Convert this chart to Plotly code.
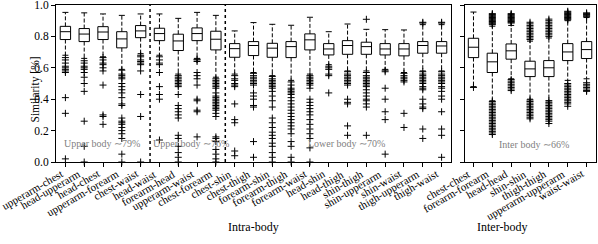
import plotly.graph_objects as go

# ---------------- data ----------------
intra_labels = ["upperarm-chest", "head-upperarm", "head-chest", "upperarm-forearm", "chest-waist",
                "head-waist", "forearm-head", "upperarm-waist", "chest-forearm",
                "chest-shin", "chest-thigh", "forearm-shin", "forearm-thigh", "forearm-waist",
                "head-shin", "head-thigh", "shin-thigh", "shin-upperarm", "shin-waist",
                "thigh-upperarm", "thigh-waist"]
intra_upper = [0.953, 0.95, 0.943, 0.934, 0.943, 0.943, 0.915, 0.953, 0.934, 0.835, 0.888, 0.877,
               0.871, 0.922, 0.83, 0.879, 0.845, 0.843, 0.841, 0.875, 0.875]
intra_q3 = [0.864, 0.85, 0.862, 0.83, 0.869, 0.852, 0.814, 0.854, 0.833, 0.754, 0.767, 0.756,
            0.767, 0.816, 0.754, 0.773, 0.763, 0.754, 0.754, 0.767, 0.767]
intra_median = [0.83, 0.815, 0.828, 0.784, 0.835, 0.818, 0.771, 0.818, 0.782, 0.722, 0.742, 0.725,
                0.735, 0.778, 0.72, 0.742, 0.735, 0.72, 0.72, 0.742, 0.739]
intra_q1 = [0.78, 0.767, 0.78, 0.727, 0.792, 0.773, 0.71, 0.773, 0.714, 0.667, 0.678, 0.667,
            0.665, 0.714, 0.682, 0.686, 0.686, 0.682, 0.676, 0.693, 0.693]
intra_lower = [0.68, 0.66, 0.67, 0.59, 0.69, 0.68, 0.56, 0.66, 0.54, 0.56, 0.57, 0.55,
               0.52, 0.56, 0.62, 0.58, 0.58, 0.59, 0.57, 0.58, 0.58]
intra_outliers = [
    [0.665, 0.65, 0.63, 0.61, 0.60, 0.59, 0.58, 0.57, 0.41, 0.31, 0.02],
    [0.645, 0.63, 0.61, 0.60, 0.59, 0.57, 0.54, 0.50, 0.45, 0.26, 0.10, 0.0],
    [0.665, 0.65, 0.63, 0.62, 0.60, 0.58, 0.49, 0.30, 0.29, 0.24],
    [0.585, 0.56, 0.55, 0.54, 0.53, 0.50, 0.48, 0.46, 0.44, 0.41, 0.37, 0.36, 0.28, 0.26,
     0.25, 0.24, 0.22, 0.20, 0.18, 0.15, 0.05, 0.0],
    [0.68, 0.67, 0.65, 0.64, 0.63, 0.62, 0.58, 0.43, 0.29, 0.0],
    [0.67, 0.65, 0.63, 0.62, 0.57, 0.48, 0.43, 0.40, 0.14],
    [0.55, 0.54, 0.53, 0.52, 0.51, 0.50, 0.49, 0.48, 0.43, 0.36, 0.34, 0.32, 0.30, 0.28,
     0.17, 0.15, 0.10, 0.06, 0.03, 0.0],
    [0.655, 0.65, 0.64, 0.57, 0.55, 0.53, 0.49, 0.40, 0.39, 0.33, 0.32, 0.16],
    [0.53, 0.52, 0.51, 0.50, 0.49, 0.48, 0.47, 0.44, 0.42, 0.41, 0.40, 0.39, 0.38, 0.37,
     0.36, 0.35, 0.34, 0.33, 0.31, 0.29, 0.16, 0.15, 0.13, 0.08, 0.05, 0.02, 0.0],
    [0.55, 0.53, 0.52, 0.50, 0.49, 0.48, 0.37, 0.27, 0.25, 0.07, 0.04],
    [0.565, 0.55, 0.54, 0.53, 0.52, 0.51, 0.50, 0.49, 0.44, 0.42, 0.40, 0.36, 0.35, 0.13, 0.03],
    [0.545, 0.53, 0.52, 0.51, 0.50, 0.49, 0.48, 0.47, 0.45, 0.42, 0.39, 0.35, 0.28, 0.25,
     0.22, 0.19, 0.17, 0.15, 0.12, 0.10, 0.06, 0.03, 0.0],
    [0.51, 0.49, 0.47, 0.46, 0.45, 0.44, 0.43, 0.41, 0.39, 0.37, 0.35, 0.33, 0.31, 0.29,
     0.27, 0.25, 0.23, 0.21, 0.18, 0.13, 0.10, 0.03, 0.0],
    [0.55, 0.54, 0.53, 0.52, 0.51, 0.50, 0.49, 0.47, 0.40, 0.38, 0.36, 0.34, 0.32, 0.30,
     0.27, 0.24, 0.21, 0.18, 0.15, 0.09, 0.0],
    [0.61, 0.60, 0.59, 0.56, 0.55, 0.44],
    [0.575, 0.56, 0.55, 0.54, 0.53, 0.52, 0.51, 0.50, 0.49, 0.40, 0.38, 0.37, 0.23, 0.17],
    [0.909, 0.57, 0.55, 0.54, 0.53, 0.52, 0.51, 0.50, 0.49, 0.48, 0.46, 0.44, 0.42, 0.40,
     0.39, 0.37, 0.35, 0.17],
    [0.585, 0.575, 0.47, 0.40, 0.32, 0.27, 0.05],
    [0.565, 0.55, 0.54, 0.53, 0.52, 0.51, 0.31, 0.22],
    [0.89, 0.885, 0.575, 0.56, 0.55, 0.54, 0.53, 0.52, 0.51, 0.50, 0.48, 0.47, 0.46, 0.40,
     0.37, 0.35, 0.34, 0.21, 0.15],
    [0.89, 0.885, 0.575, 0.56, 0.55, 0.54, 0.53, 0.52, 0.51, 0.50, 0.48, 0.47, 0.45, 0.42,
     0.40, 0.32, 0.21, 0.17, 0.03],
]

inter_labels = ["chest-chest", "forearm-forearm", "head-head", "shin-shin", "thigh-thigh",
                "upperarm-upperarm", "waist-waist"]
inter_upper = [0.955, 0.865, 0.87, 0.77, 0.79, 0.90, 0.92]
inter_q3 = [0.788, 0.693, 0.752, 0.642, 0.646, 0.754, 0.767]
inter_median = [0.731, 0.638, 0.708, 0.593, 0.60, 0.701, 0.716]
inter_q1 = [0.665, 0.57, 0.655, 0.544, 0.544, 0.646, 0.659]
inter_lower = [0.48, 0.39, 0.53, 0.40, 0.39, 0.52, 0.53]
inter_outliers = [
    [0.475],
    [0.945, 0.94, 0.935, 0.93, 0.925, 0.92, 0.915, 0.91, 0.905, 0.90, 0.895, 0.89, 0.885,
     0.88, 0.875, 0.385, 0.375, 0.365, 0.355, 0.345, 0.335, 0.325, 0.315, 0.305, 0.295,
     0.285, 0.275, 0.265, 0.255, 0.245, 0.235, 0.225, 0.215, 0.205, 0.195, 0.185, 0.175],
    [0.945, 0.94, 0.935, 0.93, 0.925, 0.92, 0.915, 0.91, 0.905, 0.90, 0.895, 0.89, 0.885,
     0.525, 0.515, 0.505, 0.495, 0.485, 0.475, 0.465, 0.455],
    [0.89, 0.88, 0.87, 0.86, 0.85, 0.84, 0.83, 0.82, 0.81, 0.80, 0.79, 0.78,
     0.395, 0.385, 0.375, 0.365, 0.355, 0.345, 0.335, 0.325, 0.315, 0.305, 0.295, 0.285, 0.275],
    [0.91, 0.90, 0.89, 0.88, 0.87, 0.86, 0.85, 0.84, 0.83, 0.82, 0.81, 0.80,
     0.39, 0.38, 0.37, 0.36, 0.35, 0.34, 0.33, 0.32, 0.31, 0.30, 0.29, 0.28, 0.27, 0.26, 0.245],
    [0.96, 0.955, 0.95, 0.945, 0.94, 0.935, 0.93, 0.925, 0.92, 0.915, 0.91, 0.905,
     0.50, 0.49, 0.48, 0.47, 0.46, 0.45, 0.44, 0.43, 0.42, 0.41, 0.40, 0.39, 0.38, 0.37, 0.355],
    [0.95, 0.945, 0.94, 0.935, 0.93, 0.925,
     0.505, 0.495, 0.485, 0.475, 0.465, 0.455, 0.45],
]

group_notes = ["Upper body \u223c79%", "Upper body \u223c76%", "Lower body \u223c70%", "Inter body \u223c66%"]
group_dividers = [4.5, 8.5]

# ---------------- figure ----------------
FONT = "Liberation Serif"
W, H = 598, 244
AX_BOTTOM = 162  # px from top
fig = go.Figure()


def add_panel(fig, labels, upper, q3, med, q1, lower, outliers, xa, ya):
    xs = list(range(len(labels)))
    fig.add_trace(go.Box(x=xs, q1=q1, median=med, q3=q3, lowerfence=q1, upperfence=q3,
                         width=0.55, fillcolor="white", line=dict(color="black", width=1),
                         whiskerwidth=0, showlegend=False, xaxis=xa, yaxis=ya,
                         hoverinfo="skip"))
    wx, wy = [], []
    for i in xs:
        wx += [i, i, None, i, i, None]
        wy += [q3[i], upper[i], None, q1[i], lower[i], None]
    fig.add_trace(go.Scatter(x=wx, y=wy, mode="lines",
                             line=dict(color="black", width=1, dash="4px,2px"),
                             showlegend=False, xaxis=xa, yaxis=ya, hoverinfo="skip"))
    cx, cy = [], []
    for i in xs:
        cx += [i - 0.16, i + 0.16, None, i - 0.16, i + 0.16, None]
        cy += [upper[i], upper[i], None, lower[i], lower[i], None]
    fig.add_trace(go.Scatter(x=cx, y=cy, mode="lines", line=dict(color="black", width=1),
                             showlegend=False, xaxis=xa, yaxis=ya, hoverinfo="skip"))
    ox, oy = [], []
    for i in xs:
        ox += [i] * len(outliers[i])
        oy += outliers[i]
    fig.add_trace(go.Scatter(x=ox, y=oy, mode="markers", cliponaxis=False,
                             marker=dict(symbol="cross-thin", size=5,
                                         line=dict(color="black", width=1)),
                             showlegend=False, xaxis=xa, yaxis=ya, hoverinfo="skip"))
    # rotated category labels (right/top aligned at the tick, like matplotlib)
    for i, lab in enumerate(labels):
        fig.add_annotation(x=i, y=1 - (AX_BOTTOM + 4) / H, xref=xa, yref="paper", text=lab,
                           textangle=-30, xanchor="right", yanchor="top", showarrow=False,
                           borderpad=0, font=dict(family=FONT, size=11, color="black"))


add_panel(fig, intra_labels, intra_upper, intra_q3, intra_median, intra_q1, intra_lower,
          intra_outliers, "x", "y")
add_panel(fig, inter_labels, inter_upper, inter_q3, inter_median, inter_q1, inter_lower,
          inter_outliers, "x2", "y2")

ydom = [1 - AX_BOTTOM / H, 1 - 5 / H]
axis_common = dict(showline=True, linecolor="black", linewidth=1, mirror=True, ticks="outside",
                   ticklen=4, tickcolor="black", showgrid=False, zeroline=False,
                   ticklabeloverflow="allow",
                   tickfont=dict(family=FONT, size=11.5, color="black"))

fig.update_layout(
    width=W, height=H, margin=dict(l=0, r=0, t=0, b=0, pad=0, autoexpand=False),
    paper_bgcolor="white", plot_bgcolor="white",
    xaxis=dict(domain=[56 / W, 451 / W], range=[-0.5, len(intra_labels) - 0.5],
               tickmode="array", tickvals=list(range(len(intra_labels))),
               showticklabels=False, automargin=False, **axis_common),
    yaxis=dict(domain=ydom, range=[0, 1.0], tickvals=[0, 0.2, 0.4, 0.6, 0.8, 1.0],
               tickformat=".1f", automargin=False, anchor="x", **axis_common),
    xaxis2=dict(domain=[465 / W, 596 / W], range=[-0.45, len(inter_labels) - 0.5],
                tickmode="array", tickvals=list(range(len(inter_labels))),
                showticklabels=False, automargin=False, anchor="y2", **axis_common),
    yaxis2=dict(domain=ydom, range=[0, 1.0], tickvals=[0, 0.2, 0.4, 0.6, 0.8, 1.0],
                showticklabels=False, automargin=False, anchor="x2", **axis_common),
)

for xd in group_dividers:
    fig.add_shape(type="line", xref="x", yref="y", x0=xd, x1=xd, y0=0, y1=1,
                  line=dict(color="black", width=1.5, dash="dot"))

note_font = dict(family=FONT, size=10, color="#7f7f7f")
fig.add_annotation(x=-0.2, y=0.115, xref="x", yref="y", text=group_notes[0], showarrow=False,
                   xanchor="left", font=note_font)
fig.add_annotation(x=4.55, y=0.115, xref="x", yref="y", text=group_notes[1], showarrow=False,
                   xanchor="left", font=note_font)
fig.add_annotation(x=12.8, y=0.115, xref="x", yref="y", text=group_notes[2], showarrow=False,
                   xanchor="left", font=note_font)
fig.add_annotation(x=3.2, y=0.11, xref="x2", yref="y2", text=group_notes[3], showarrow=False,
                   xanchor="center", font=note_font)

title_font = dict(family=FONT, size=12, color="black")
fig.add_annotation(x=26 / W, y=1 - 90 / H, xref="paper", yref="paper", text="Similarity [%]",
                   textangle=-90, showarrow=False, font=dict(family=FONT, size=11.5, color="black"))
fig.add_annotation(x=253 / W, y=1 - 236 / H, xref="paper", yref="paper", text="Intra-body",
                   showarrow=False, font=title_font)
fig.add_annotation(x=529 / W, y=1 - 236 / H, xref="paper", yref="paper", text="Inter-body",
                   showarrow=False, font=title_font)

fig.write_html("out.html", config={"displayModeBar": False},
               post_script="document.body.style.margin='0px';")
